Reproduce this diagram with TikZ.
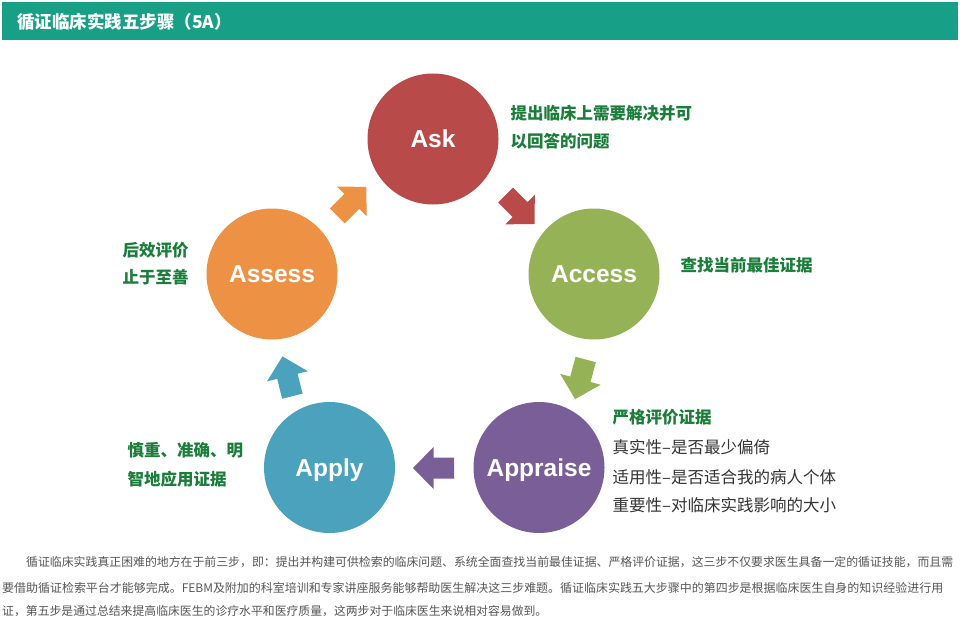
\documentclass[tikz,border=0pt]{standalone}
\usepackage{fontspec}
\setmainfont{Noto Sans CJK SC}
\newfontfamily\latinfont{Liberation Sans}
\definecolor{barteal}{HTML}{17A086}
\definecolor{askred}{HTML}{B84B4A}
\definecolor{accessgreen}{HTML}{95B356}
\definecolor{appraisepurple}{HTML}{7A5E98}
\definecolor{applyblue}{HTML}{4AA2BC}
\definecolor{assessorange}{HTML}{ED9145}
\definecolor{notegreen}{HTML}{1A7D3A}
\definecolor{bodygray}{HTML}{555555}
\tikzset{
  stepcircle/.style = {circle, minimum size = 131pt, inner sep = 0pt, text = white,
    text height = 17.5pt, text depth = 0pt, font = \latinfont\bfseries\fontsize{24.5}{24.5}\selectfont},
  note/.style = {anchor = west, inner sep = 0pt, text = notegreen, font = \bfseries\fontsize{16.5}{16.5}\selectfont},
  detail/.style = {anchor = west, inner sep = 0pt, text = black!80, font = \fontsize{16.5}{16.5}\selectfont},
  body/.style = {anchor = west, inner sep = 0pt, text = bodygray, font = \fontsize{11.85}{11.85}\selectfont},
  blockarrow/.pic = {\fill (-20.5,-10.5) -- (0,-10.5) -- (0,-21) -- (20.5,0) -- (0,21) -- (0,10.5) -- (-20.5,10.5) -- cycle;}
}
\begin{document}
\begin{tikzpicture}[x = 1pt, y = -1pt]
        \useasboundingbox (0,0) rectangle (960,623);
        \fill[barteal] (2,2) rectangle (958,40.5);
        \node (title) at (17,21.5) [anchor = west, inner sep = 0pt, text = white, font = \bfseries\fontsize{17.5}{17.5}\selectfont] {循证临床实践五步骤（5A）};
        \node[stepcircle, fill = askred] (ask) at (433,139) {Ask};
        \node[stepcircle, fill = accessgreen] (access) at (594,274) {Access};
        \node[stepcircle, fill = appraisepurple] (appraise) at (539,467.5) {Appraise};
        \node[stepcircle, fill = applyblue] (apply) at (329.5,467.5) {Apply};
        \node[stepcircle, fill = assessorange] (assess) at (272,274) {Assess};
        \pic[fill = askred, rotate = -45] at (520,209.5) {blockarrow};
        \pic[fill = accessgreen, rotate = -105] at (580.4,379.3) {blockarrow};
        \pic[fill = appraisepurple, rotate = 180] at (433.5,468) {blockarrow};
        \pic[fill = applyblue, rotate = 104] at (287.4,376.3) {blockarrow};
        \pic[fill = assessorange, rotate = 45] at (351.8,201.4) {blockarrow};
        \node[note] (asknote) at (510.5,113) {提出临床上需要解决并可};
        \node[note] (asknotetwo) at (510.5,141) {以回答的问题};
        \node[note] (accessnote) at (680.5,265.5) {查找当前最佳证据};
        \node[note] (assessnote) at (122.5,250) {后效评价};
        \node[note] (assessnotetwo) at (122.5,277.5) {止于至善};
        \node[note] (applynote) at (127.5,450.5) {慎重、准确、明};
        \node[note] (applynotetwo) at (127.5,479) {智地应用证据};
        \node[note] (appraisenote) at (612.5,417) {严格评价证据};
        \node[detail] (validity) at (612.5,447) {真实性–是否最少偏倚};
        \node[detail] (applicability) at (612.5,477.5) {适用性–是否适合我的病人个体};
        \node[detail] (importance) at (612.5,505.5) {重要性–对临床实践影响的大小};
        \node[body] (bodyone) at (26,562.5) {\resizebox{927pt}{\height}{循证临床实践真正困难的地方在于前三步，即：提出并构建可供检索的临床问题、系统全面查找当前最佳证据、严格评价证据，这三步不仅要求医生具备一定的循证技能，而且需}};
        \node[body] (bodytwo) at (2,588) {\resizebox{941pt}{\height}{要借助循证检索平台才能够完成。FEBM及附加的科室培训和专家讲座服务能够帮助医生解决这三步难题。循证临床实践五大步骤中的第四步是根据临床医生自身的知识经验进行用}};
        \node[body] (bodythree) at (2,611) {证，第五步是通过总结来提高临床医生的诊疗水平和医疗质量，这两步对于临床医生来说相对容易做到。};
    \end{tikzpicture}
\end{document}
